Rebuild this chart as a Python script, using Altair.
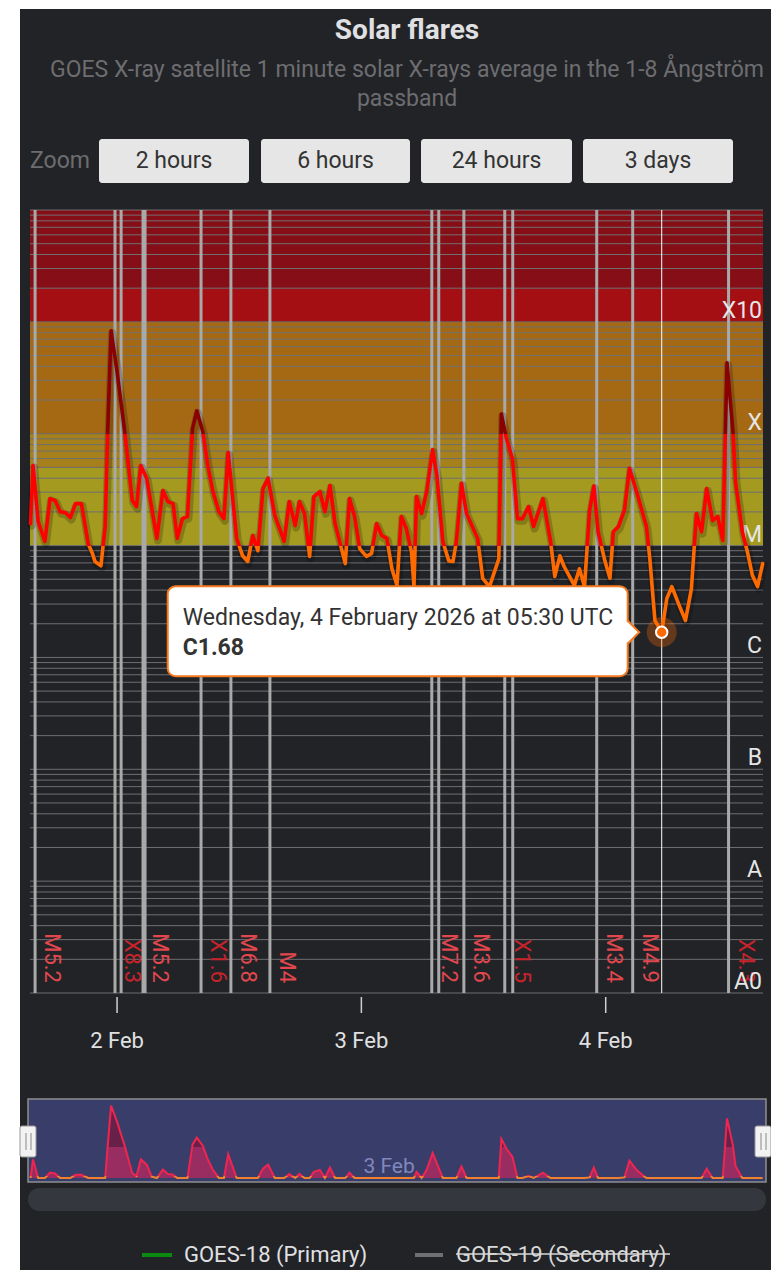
import altair as alt
import numpy as np
import pandas as pd

# ---------------- data ----------------
times = [
    "2026-02-01T15:30", "2026-02-01T15:45", "2026-02-01T16:15", "2026-02-01T16:55", "2026-02-01T17:25",
    "2026-02-01T17:55", "2026-02-01T18:25", "2026-02-01T18:55", "2026-02-01T19:25", "2026-02-01T19:55",
    "2026-02-01T20:30", "2026-02-01T21:10", "2026-02-01T21:35", "2026-02-01T21:50", "2026-02-01T22:25",
    "2026-02-01T22:50", "2026-02-01T23:05", "2026-02-01T23:25",
    "2026-02-02T00:00", "2026-02-02T00:45", "2026-02-02T01:30", "2026-02-02T01:55", "2026-02-02T02:20",
    "2026-02-02T02:55", "2026-02-02T03:25", "2026-02-02T03:55", "2026-02-02T04:30", "2026-02-02T05:00",
    "2026-02-02T05:30", "2026-02-02T05:55", "2026-02-02T06:25", "2026-02-02T06:55", "2026-02-02T07:25",
    "2026-02-02T07:50", "2026-02-02T08:25", "2026-02-02T08:55", "2026-02-02T09:25", "2026-02-02T10:00",
    "2026-02-02T10:30", "2026-02-02T10:55", "2026-02-02T11:45", "2026-02-02T12:20", "2026-02-02T12:50",
    "2026-02-02T13:20", "2026-02-02T13:50", "2026-02-02T14:20", "2026-02-02T14:50", "2026-02-02T15:30",
    "2026-02-02T16:25", "2026-02-02T16:55", "2026-02-02T17:30", "2026-02-02T17:55", "2026-02-02T18:25",
    "2026-02-02T18:55", "2026-02-02T19:20", "2026-02-02T19:55", "2026-02-02T20:25", "2026-02-02T20:55",
    "2026-02-02T21:25", "2026-02-02T22:25", "2026-02-02T22:50", "2026-02-02T23:20", "2026-02-02T23:50",
    "2026-02-03T00:30", "2026-02-03T01:00", "2026-02-03T01:30", "2026-02-03T02:00", "2026-02-03T02:30",
    "2026-02-03T03:00", "2026-02-03T03:30", "2026-02-03T03:55", "2026-02-03T04:25", "2026-02-03T04:55",
    "2026-02-03T05:10", "2026-02-03T05:25", "2026-02-03T05:55", "2026-02-03T06:25", "2026-02-03T07:00",
    "2026-02-03T07:25", "2026-02-03T08:00", "2026-02-03T08:35", "2026-02-03T09:00", "2026-02-03T09:20",
    "2026-02-03T09:50", "2026-02-03T10:20", "2026-02-03T11:25", "2026-02-03T11:55", "2026-02-03T12:35",
    "2026-02-03T13:30", "2026-02-03T13:45", "2026-02-03T14:15", "2026-02-03T14:50", "2026-02-03T15:20",
    "2026-02-03T15:50", "2026-02-03T16:25", "2026-02-03T16:55", "2026-02-03T17:50", "2026-02-03T18:35",
    "2026-02-03T19:00", "2026-02-03T19:30", "2026-02-03T19:55", "2026-02-03T20:55", "2026-02-03T21:25",
    "2026-02-03T21:55", "2026-02-03T22:25", "2026-02-03T22:50", "2026-02-03T23:15", "2026-02-03T23:55",
    "2026-02-04T00:25", "2026-02-04T00:45", "2026-02-04T01:15", "2026-02-04T01:50", "2026-02-04T02:20",
    "2026-02-04T03:05", "2026-02-04T04:00", "2026-02-04T04:20", "2026-02-04T04:50", "2026-02-04T05:30",
    "2026-02-04T06:00", "2026-02-04T06:30", "2026-02-04T07:10", "2026-02-04T07:50", "2026-02-04T08:25",
    "2026-02-04T08:55", "2026-02-04T09:25", "2026-02-04T09:55", "2026-02-04T10:30", "2026-02-04T11:00",
    "2026-02-04T11:30", "2026-02-04T11:55", "2026-02-04T12:30", "2026-02-04T12:45", "2026-02-04T13:25",
    "2026-02-04T13:55", "2026-02-04T14:25", "2026-02-04T14:55", "2026-02-04T15:25",
]
flux = [
    1.57e-5, 5.2e-5, 1.64e-5, 1.09e-5, 2.63e-5, 2.53e-5, 2.01e-5, 1.97e-5, 1.78e-5, 2.37e-5,
    2.37e-5, 1.04e-5, 8.5e-6, 7.2e-6, 6.6e-6, 1.48e-5, 1.05e-4, 8.3e-4,
    3.6e-4, 1.05e-4, 2.53e-5, 2.23e-5, 5.2e-5, 3.97e-5, 2.14e-5, 1.16e-5, 3.1e-5, 2.47e-5,
    2.37e-5, 1.16e-5, 1.74e-5, 1.82e-5, 1.11e-4, 1.6e-4, 1.05e-4, 5.2e-5, 3.04e-5, 2.01e-5,
    1.74e-5, 6.8e-5, 1.16e-5, 8.1e-6, 7.2e-6, 1.23e-5, 9.0e-6, 3.23e-5, 4.0e-5, 1.85e-5,
    1.09e-5, 2.47e-5, 1.51e-5, 2.47e-5, 1.93e-5, 8.0e-6, 2.74e-5, 3.04e-5, 2.01e-5, 3.44e-5,
    1.57e-5, 6.9e-6, 2.63e-5, 1.82e-5, 9.4e-6,
    8.0e-6, 8.5e-6, 1.57e-5, 1.23e-5, 1.16e-5, 6.2e-6, 4.4e-6, 1.82e-5, 1.42e-5, 8.8e-6,
    4.3e-6, 2.74e-5, 1.93e-5, 3.04e-5, 7.2e-5, 4.22e-5, 1.09e-5, 7.3e-6, 7.2e-6, 1.09e-5,
    3.6e-5, 1.93e-5, 1.16e-5, 5.1e-6, 4.3e-6, 7.6e-6, 1.5e-4, 9.0e-5, 6.0e-5, 1.74e-5,
    1.74e-5, 2.23e-5, 1.48e-5, 2.63e-5, 1.09e-5, 5.3e-6, 8.1e-6, 6.5e-6, 4.4e-6, 6.2e-6,
    4.3e-6, 2.06e-5, 3.4e-5, 1.33e-5, 7.3e-6,
    5.1e-6, 1.33e-5, 1.48e-5, 2.06e-5, 4.9e-5, 2.92e-5, 1.48e-5, 7.6e-6, 2.14e-6, 1.68e-6,
    3.36e-6, 4.3e-6, 3.0e-6, 2.14e-6, 4.1e-6, 1.93e-5, 1.33e-5, 3.23e-5, 1.67e-5, 1.82e-5,
    1.11e-5, 4.3e-4, 1.05e-4, 3.73e-5, 1.33e-5, 8.8e-6, 5.4e-6, 4.3e-6, 6.9e-6,
]

flare_times = [
    "2026-02-01T15:57", "2026-02-01T23:48", "2026-02-02T00:24", "2026-02-02T02:33", "2026-02-02T02:45",
    "2026-02-02T08:15", "2026-02-02T11:11", "2026-02-02T15:01", "2026-02-03T06:55", "2026-02-03T07:36",
    "2026-02-03T10:04", "2026-02-03T14:05", "2026-02-03T14:52", "2026-02-03T23:07", "2026-02-04T02:39",
    "2026-02-04T12:04",
]
flare_labels = ["M5.2", "X8.3", "", "M5.2", "", "X1.6", "M6.8", "M4", "M7.2", "", "M3.6", "X1.5", "",
                "M3.4", "M4.9", "X4.3"]

class_names = ["A0", "A", "B", "C", "M", "X", "X10"]
class_flux = [1e-9, 1e-8, 1e-7, 1e-6, 1e-5, 1e-4, 1e-3]

band_lo = [1e-5, 5e-5, 1e-4, 1e-3, 2e-3]
band_hi = [5e-5, 1e-4, 1e-3, 2e-3, 1e-2]
band_colors = ["#a39a1f", "#a5801b", "#a66913", "#a40f13", "#860f17"]

hover_time = "2026-02-04T05:30"
button_labels = ["2 hours", "6 hours", "24 hours", "3 days"]
legend_labels = ["GOES-18 (Primary)", "GOES-19 (Secondary)"]
day_ticks = ["2026-02-02T00:00", "2026-02-03T00:00", "2026-02-04T00:00"]
day_labels = ["2 Feb", "3 Feb", "4 Feb"]

# ---------------- layout ----------------
W, H = 733, 783
PX0, PY0 = 30, 210          # page position of plot origin
TOTAL_H = 1262
TOTAL_W = 763


def X(px):
    return px - PX0


def Y(py):
    return py - PY0


ORANGE, RED, DARKRED = "#ff6a00", "#ff0000", "#8b0000"
BG = "#212327"
FONT = "Roboto"
FS = 23

df = pd.DataFrame({"t": [s + ":00Z" for s in times], "f": flux})
flares = pd.DataFrame({"t": [s + ":00Z" for s in flare_times], "label": flare_labels})
classes = pd.DataFrame({"name": class_names, "v": class_flux})
bands = pd.DataFrame({"lo": band_lo, "hi": band_hi, "c": band_colors})
grid_vals = [k * 10.0 ** n for n in range(-9, -2) for k in range(1, 10)] + [1e-2]
grid = pd.DataFrame({"v": grid_vals})
days = pd.DataFrame({"t": [s + ":00Z" for s in day_ticks], "s": day_labels})
one = pd.DataFrame({"k": [0]})


def flare_class(v):
    for base, letter in [(1e-4, "X"), (1e-5, "M"), (1e-6, "C"), (1e-7, "B"), (1e-8, "A")]:
        if v >= base:
            return f"{letter}{v / base:.2f}"
    return f"A{v / 1e-8:.2f}"


hover = df[df["t"] == hover_time + ":00Z"].copy()
hover["cls"] = hover["f"].map(flare_class)

xscale = alt.Scale(type="utc", domain=[
    alt.DateTime(year=2026, month=2, date=1, hours=15, minutes=27, utc=True),
    alt.DateTime(year=2026, month=2, date=4, hours=15, minutes=27, utc=True)])
yscale = alt.Scale(type="log", domain=[1e-9, 1e-2], nice=False)
xenc = alt.X("t:T", scale=xscale, axis=None)
yenc = alt.Y("f:Q", scale=yscale, axis=None)

# gradient stops for zone colouring (offsets from the line's own extent)
lmax, lmin = np.log10(max(flux)), np.log10(min(flux))


def off(v):
    return float((lmax - np.log10(v)) / (lmax - lmin))


ox, om = off(1e-4), off(1e-5)
line_grad = alt.Gradient(gradient="linear", x1=0, x2=0, y1=0, y2=1, stops=[
    alt.GradientStop(color=DARKRED, offset=0), alt.GradientStop(color=DARKRED, offset=ox),
    alt.GradientStop(color=RED, offset=ox), alt.GradientStop(color=RED, offset=om),
    alt.GradientStop(color=ORANGE, offset=om), alt.GradientStop(color=ORANGE, offset=1)])

# navigator scale and gradients
NAV_MIN, NAV_MAX = 2e-5, 9e-4
nav_y = alt.Scale(type="log", domain=[NAV_MIN, NAV_MAX], range=[Y(1178), Y(1104)], clamp=True, nice=False)
nmax = np.log10(min(max(flux), NAV_MAX))


def noff(v):
    return float((nmax - np.log10(v)) / (nmax - np.log10(NAV_MIN)))


nx = noff(1e-4)
nav_fill = alt.Gradient(gradient="linear", x1=0, x2=0, y1=0, y2=1, stops=[
    alt.GradientStop(color="#8e0b2e", offset=0), alt.GradientStop(color="#8e0b2e", offset=nx),
    alt.GradientStop(color="#e8205a", offset=nx), alt.GradientStop(color="#e8205a", offset=1)])
nav_stroke = alt.Gradient(gradient="linear", x1=0, x2=0, y1=0, y2=1, stops=[
    alt.GradientStop(color="#f0244f", offset=0), alt.GradientStop(color="#f0244f", offset=0.97),
    alt.GradientStop(color="#f08030", offset=0.97), alt.GradientStop(color="#f08030", offset=1)])


# ---------------- helpers for decorations ----------------
def txt(s, x, y, size=FS, color="#e0e0e3", weight="normal", align="center", baseline="middle"):
    return alt.Chart(one).mark_text(text=s, fontSize=size, color=color, fontWeight=weight, align=align,
                                    baseline=baseline, font=FONT).encode(x=alt.value(X(x)), y=alt.value(Y(y)))


def box(x0, x1, y0, y1, **kw):
    return alt.Chart(one).mark_rect(**kw).encode(
        x=alt.value(X(x0)), x2=alt.value(X(x1)), y=alt.value(Y(y0)), y2=alt.value(Y(y1)))


def seg(x0, x1, y0, y1, **kw):
    return alt.Chart(one).mark_rule(**kw).encode(
        x=alt.value(X(x0)), x2=alt.value(X(x1)), y=alt.value(Y(y0)), y2=alt.value(Y(y1)))


layers = []
layers.append(box(20, 790, 9, 1300, fill=BG))

# title, subtitle, zoom buttons
layers.append(txt("Solar flares", 407, 31, size=28, weight="bold"))
layers.append(txt("GOES X-ray satellite 1 minute solar X-rays average in the 1-8 Ångström", 407, 70,
                  color="#6d6d70"))
layers.append(txt("passband", 407, 99, color="#6d6d70"))
layers.append(txt("Zoom", 30, 161, color="#6d6d70", align="left"))
btn_x = [(99, 249), (261, 410), (421, 572), (583, 733)]
for (a, b), lab in zip(btn_x, button_labels):
    layers.append(box(a, b, 139, 183, fill="#e6e6e6", cornerRadius=3))
    layers.append(txt(lab, (a + b) / 2, 161, color="#333333"))

# plot bands
layers.append(alt.Chart(bands).mark_rect().encode(
    x=alt.value(0), x2=alt.value(W),
    y=alt.Y("lo:Q", scale=yscale, axis=None), y2="hi:Q",
    color=alt.Color("c:N", scale=None)))

# grid lines
layers.append(alt.Chart(grid).mark_rule(color="#6f6f72", strokeWidth=1).encode(
    x=alt.value(0), x2=alt.value(W), y=alt.Y("v:Q", scale=yscale, axis=None)))

# flare plot lines and their labels
layers.append(alt.Chart(flares).mark_rule(color="#a9a9a9", strokeWidth=3).encode(
    x=xenc, y=alt.value(0), y2=alt.value(H)))
layers.append(alt.Chart(flares).transform_filter("datum.label != ''").mark_text(
    angle=90, align="right", baseline="middle", fontSize=22, font=FONT, xOffset=17).encode(
    x=xenc, y=alt.value(Y(983)), text="label:N",
    color=alt.condition("slice(datum.label, 0, 1) == 'X'", alt.value("#c8232b"), alt.value("#e2474e"))))

# class labels on the right
layers.append(alt.Chart(classes).mark_text(align="right", baseline="alphabetic", fontSize=FS, font=FONT,
                                           color="#e6e6e6", dy=-4).encode(
    x=alt.value(W - 1), y=alt.Y("v:Q", scale=yscale, axis=None), text="name:N"))

# x axis (day ticks and labels drawn through the time scale)
layers.append(alt.Chart(days).mark_rule(color="#cfcfcf", strokeWidth=1.5).encode(
    x=xenc, y=alt.value(Y(997)), y2=alt.value(Y(1013))))
layers.append(alt.Chart(days).mark_text(fontSize=22, font=FONT, color="#e0e0e3", baseline="middle").encode(
    x=xenc, y=alt.value(Y(1041)), text="s:N"))

# crosshair
layers.append(alt.Chart(hover).mark_rule(color="#ffffff", strokeWidth=1).encode(
    x=xenc, y=alt.value(0), y2=alt.value(H)))

# line shadow and line
layers.append(alt.Chart(df).mark_line(stroke="black", strokeOpacity=0.2, strokeWidth=8, strokeJoin="round",
                                      strokeCap="round", xOffset=1, yOffset=2).encode(x=xenc, y=yenc))
layers.append(alt.Chart(df).mark_line(stroke=line_grad, strokeWidth=3.6, strokeJoin="round",
                                      strokeCap="round").encode(x=xenc, y=yenc))

# hovered point
layers.append(alt.Chart(hover).mark_point(shape="circle", filled=True, size=900, color=ORANGE,
                                          opacity=0.3).encode(x=xenc, y=yenc))
layers.append(alt.Chart(hover).mark_point(shape="circle", filled=True, size=130, fill=ORANGE,
                                          stroke="white", strokeWidth=2, opacity=1).encode(x=xenc, y=yenc))

# tooltip
layers.append(alt.Chart(hover).mark_rect(fill="white", stroke="#f57a1f", strokeWidth=2, cornerRadius=8,
                                         xOffset=-494, x2Offset=-34, yOffset=-46, y2Offset=44).encode(
    x=xenc, x2="t:T", y=yenc, y2="f:Q"))
layers.append(alt.Chart(hover).mark_rect(fill="white", xOffset=-37, x2Offset=-32, yOffset=-10,
                                         y2Offset=10).encode(x=xenc, x2="t:T", y=yenc, y2="f:Q"))
layers.append(alt.Chart(hover).mark_point(shape="M0,-1L1,0L0,1", filled=True, size=529, fill="white",
                                          stroke="#f57a1f", strokeWidth=2, opacity=1, xOffset=-34).encode(
    x=xenc, y=yenc))
layers.append(alt.Chart(hover).transform_calculate(
    lab="utcFormat(toDate(datum.t), '%A, %-d %B %Y at %H:%M UTC')").mark_text(
    align="left", baseline="middle", fontSize=FS, font=FONT, color="#333333", xOffset=-479, yOffset=-14).encode(
    x=xenc, y=yenc, text="lab:N"))
layers.append(alt.Chart(hover).mark_text(
    align="left", baseline="middle", fontSize=FS, font=FONT, fontWeight="bold", color="#333333",
    xOffset=-479, yOffset=16).encode(x=xenc, y=yenc, text="cls:N"))

# navigator
layers.append(box(28, 766, 1099, 1182, fill="#383d6a", stroke="#8e8e90", strokeWidth=1.5))
layers.append(alt.Chart(df).mark_area(fill=nav_fill, fillOpacity=0.55).encode(
    x=xenc, y=alt.Y("f:Q", scale=nav_y, axis=None), y2=alt.datum(NAV_MIN)))
layers.append(alt.Chart(df).mark_line(stroke=nav_stroke, strokeWidth=2).encode(
    x=xenc, y=alt.Y("f:Q", scale=nav_y, axis=None)))
layers.append(alt.Chart(days.iloc[[1]]).mark_text(
    align="left", baseline="middle", fontSize=21, font=FONT, color="#8288bd", xOffset=2).encode(
    x=xenc, y=alt.value(Y(1167)), text="s:N"))
for hx in (20, 755):
    layers.append(box(hx, hx + 16, 1126, 1157, fill="#f2f2f2", stroke="#999999", strokeWidth=1, cornerRadius=2))
    layers.append(seg(hx + 6, hx + 6, 1133, 1150, color="#999999", strokeWidth=1.2))
    layers.append(seg(hx + 11, hx + 11, 1133, 1150, color="#999999", strokeWidth=1.2))
layers.append(box(28, 766, 1188, 1211, fill="#34373d", cornerRadius=11))

# legend
LEG_Y = 1255
LEG_FS = 22
layers.append(seg(142, 172, LEG_Y, LEG_Y, color="#0b8a12", strokeWidth=4))
layers.append(txt(legend_labels[0], 184, LEG_Y, size=LEG_FS, color="#e0e0e3", align="left"))
layers.append(seg(415, 443, LEG_Y, LEG_Y, color="#707073", strokeWidth=4))
layers.append(txt(legend_labels[1], 456, LEG_Y, size=LEG_FS, color="#d8d8d8", align="left"))
layers.append(seg(456, 670, LEG_Y - 1, LEG_Y - 1, color="#d8d8d8", strokeWidth=1.5))

chart = alt.layer(*layers).resolve_scale(y="independent").properties(
    width=W, height=H,
    padding={"left": 22, "top": 202, "right": TOTAL_W - 22 - W, "bottom": TOTAL_H - 202 - H},
    autosize=alt.AutoSizeParams(type="none"),
    background="white",
).configure_view(stroke=None).configure(font=FONT)

chart.save("out.html", embed_options={"renderer": "svg", "actions": False})
